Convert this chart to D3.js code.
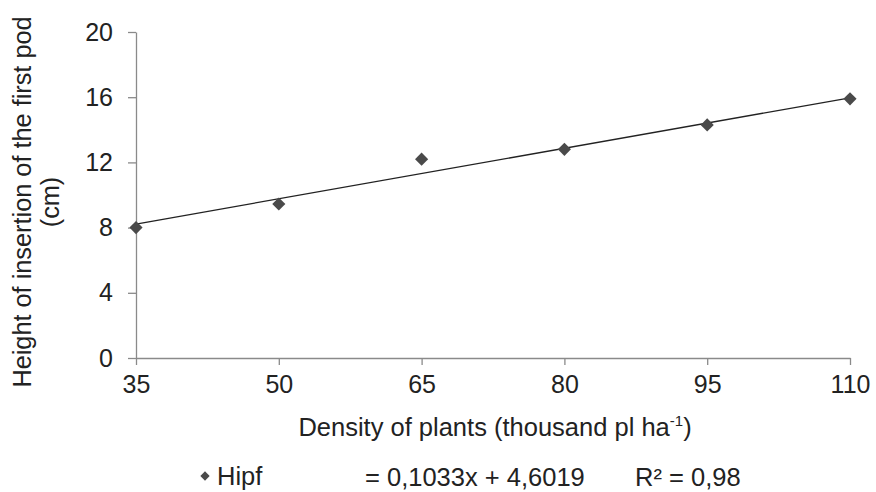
<!DOCTYPE html>
<html lang="en">
<head>
  <meta charset="UTF-8">
  <title>Hipf</title>
  <script src="https://d3js.org/d3.v7.min.js"></script>
  <style>
    body { margin: 0; background: #fff; }
    svg { width: 876px; height: 492px; display: block; }
    text { font-family: "Liberation Sans", Arial, sans-serif; fill: #222; }
  </style>
</head>
<body>
  <svg></svg>
  <script>
    const density = [35, 50, 65, 80, 95, 110];
    const hipf = [8.0, 9.45, 12.2, 12.8, 14.3, 15.9];
    const yTicks = [0, 4, 8, 12, 16, 20];
    const slope = 0.1033;
    const intercept = 4.6019;

    const width = 876;
    const height = 492;
    const margin = {top: 32, bottom: 134, left: 136, right: 26};
    const font = '"Liberation Sans", Arial, sans-serif';

    const svg = d3.select(`svg`);

    const xScale = d3.scaleLinear()
      .domain([35, 110])
      .range([margin.left, width - margin.right]);

    const yScale = d3.scaleLinear()
      .domain([0, 20])
      .range([height - margin.bottom, margin.top]);

    const axisColor = '#8a8a8a';

    // x axis
    const xAxis = d3.axisBottom(xScale).tickValues(density).tickSize(7).tickPadding(10).tickSizeOuter(0);
    const gx = svg.append(`g`)
      .attr(`transform`, `translate(0, ${yScale(0)})`)
      .call(xAxis);
    gx.select('.domain').attr('stroke', axisColor).attr('stroke-width', 1.3);
    gx.selectAll('.tick line').attr('stroke', axisColor).attr('stroke-width', 1.3);
    gx.selectAll('.tick text').attr('font-size', 25).attr('fill', '#222').attr('font-family', font);

    // y axis
    const yAxis = d3.axisLeft(yScale).tickValues(yTicks).tickSize(8).tickPadding(15).tickSizeOuter(0);
    const gy = svg.append(`g`)
      .attr(`transform`, `translate(${margin.left}, 0)`)
      .call(yAxis);
    gy.select('.domain').attr('stroke', axisColor).attr('stroke-width', 1.3);
    gy.selectAll('.tick line').attr('stroke', axisColor).attr('stroke-width', 1.3);
    gy.selectAll('.tick text').attr('font-size', 25).attr('fill', '#222').attr('font-family', font);

    // trend line
    const line = d3.line()
      .x(d => xScale(d))
      .y(d => yScale(slope * d + intercept));

    svg.append(`path`)
      .attr(`d`, line([35, 110]))
      .attr('fill', 'none')
      .attr('stroke', '#222')
      .attr('stroke-width', 1.3);

    // points
    const diamond = d3.symbol().type(d3.symbolDiamond2).size(110);
    svg.append('g').selectAll('path')
      .data(density.map((d, i) => [d, hipf[i]]))
      .join('path')
      .attr('d', diamond)
      .attr('transform', d => `translate(${xScale(d[0])}, ${yScale(d[1])})`)
      .attr('fill', '#4a4a4a');

    // axis titles
    const xTitle = svg.append('text')
      .attr('x', 495).attr('y', 436)
      .attr('text-anchor', 'middle')
      .attr('font-size', 25.5);
    xTitle.append('tspan').text('Density of plants (thousand pl ha');
    xTitle.append('tspan').attr('font-size', 15).attr('dy', -10).text('-1');
    xTitle.append('tspan').attr('dy', 10).text(')');

    const yTitle = svg.append('text')
      .attr('transform', 'translate(0, 202) rotate(-90)')
      .attr('text-anchor', 'middle')
      .attr('font-size', 25.3);
    yTitle.append('tspan').attr('x', 0).attr('y', 31).text('Height of insertion of the first pod');
    yTitle.append('tspan').attr('x', 0).attr('y', 59).text('(cm)');

    // legend
    svg.append('path')
      .attr('d', d3.symbol().type(d3.symbolDiamond2).size(55))
      .attr('transform', 'translate(205, 476)')
      .attr('fill', '#4a4a4a');
    svg.append('text').attr('x', 217).attr('y', 485).attr('font-size', 25.5).text('Hipf');
    svg.append('text').attr('x', 365).attr('y', 486).attr('font-size', 25.5)
      .text(`= ${String(slope).replace('.', ',')}x + ${String(intercept).replace('.', ',')}`);
    svg.append('text').attr('x', 635).attr('y', 486).attr('font-size', 25.5).text('R² = 0,98');
  </script>
</body>
</html>
